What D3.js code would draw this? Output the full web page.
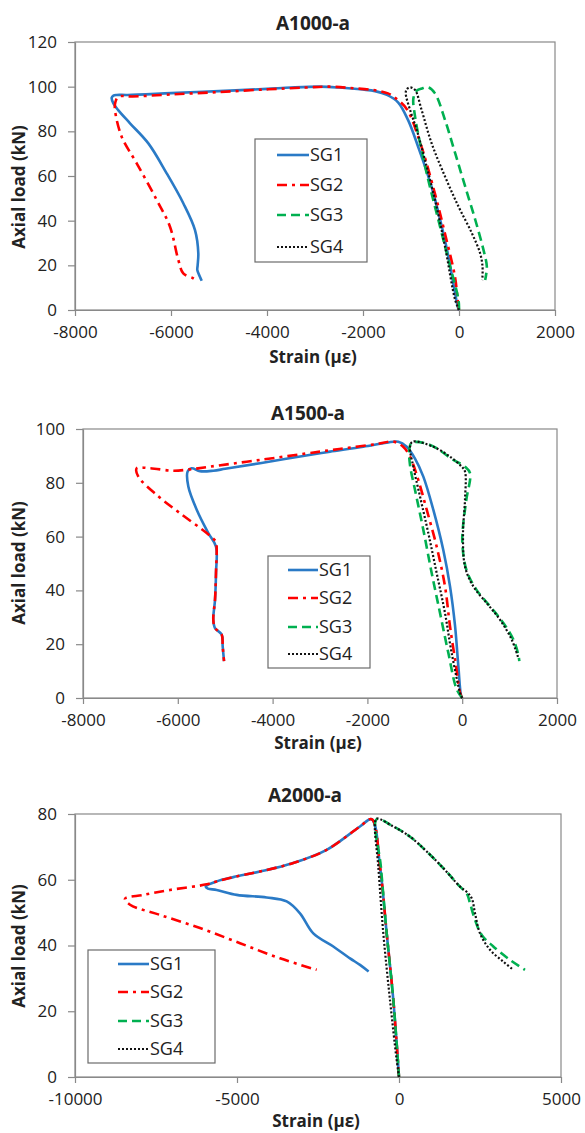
<!DOCTYPE html>
<html>
<head>
<meta charset="utf-8">
<script src="https://cdn.jsdelivr.net/npm/d3@7"></script>
<style>
  body { margin: 0; background: #fff; }
  svg { display: block; }
  text { font-family: "Open Sans", sans-serif; fill: #222; }
</style>
</head>
<body>
<script>
// ---- data ----
const SERIES_NAMES = ['SG1', 'SG2', 'SG3', 'SG4']
const TITLES = ['A1000-a', 'A1500-a', 'A2000-a']
const X_LABEL = 'Strain (με)'
const Y_LABEL = 'Axial load (kN)'

const X_TICKS_1 = [-8000, -6000, -4000, -2000, 0, 2000]
const Y_TICKS_1 = [0, 20, 40, 60, 80, 100, 120]
const X_TICKS_2 = [-8000, -6000, -4000, -2000, 0, 2000]
const Y_TICKS_2 = [0, 20, 40, 60, 80, 100]
const X_TICKS_3 = [-10000, -5000, 0, 5000]
const Y_TICKS_3 = [0, 20, 40, 60, 80]

// A1000-a  [strain, load]
const A1000_SG1 = [[0, 0], [-20, 1], [-260, 28], [-570, 55], [-850, 73], [-1060, 85], [-1270, 93], [-1500, 96.3], [-1750, 98], [-2000, 98.7], [-2500, 99.6], [-2900, 100], [-3500, 99.6], [-4000, 99], [-5000, 98], [-6000, 97.1], [-6900, 96.3], [-7130, 96.3], [-7200, 96], [-7236, 95], [-7200, 92.5], [-7100, 89.5], [-6854, 83.6], [-6472, 74.6], [-6090, 61.2], [-5744, 47.8], [-5500, 35.8], [-5431, 25.4], [-5445, 20], [-5452, 17.9], [-5400, 15], [-5360, 13.1]]
const A1000_SG2 = [[0, 0], [-30, 5], [-85, 15], [-290, 34], [-500, 52], [-810, 75], [-1090, 90], [-1330, 95], [-1480, 97], [-1750, 98.4], [-2200, 99.3], [-2700, 100], [-3200, 99.6], [-4000, 98.8], [-5000, 97.6], [-6000, 96.5], [-6800, 95.6], [-7097, 95.5], [-7160, 93], [-7167, 89.6], [-7028, 77.6], [-6715, 65.7], [-6298, 49.3], [-6021, 37.3], [-5847, 22.4], [-5744, 16.4], [-5535, 14.2], [-5466, 13.1]]
const A1000_SG3 = [[0, 0], [-10, 4.5], [-220, 22.4], [-430, 40.3], [-640, 58.2], [-810, 74.6], [-915, 86.6], [-950, 94.8], [-880, 98.2], [-770, 99.2], [-640, 99.7], [-500, 97], [-290, 85], [-80, 70.2], [130, 55.2], [340, 40.3], [510, 26.9], [580, 19.4], [545, 13.4]]
const A1000_SG4 = [[0, 0], [-80, 4.5], [-290, 28.3], [-500, 49.3], [-710, 67.2], [-880, 80.6], [-1020, 89.6], [-1110, 97], [-1090, 98.8], [-1020, 99.7], [-915, 98.5], [-780, 89.6], [-570, 74.6], [-290, 59.7], [-10, 46.3], [270, 34.3], [440, 25.4], [490, 19.4], [485, 13.4]]

// A1500-a
const A1500_SG1 = [[0, 0], [-25, 1], [-82, 12], [-152, 27], [-257, 41.5], [-399, 55], [-610, 70], [-820, 82.3], [-996, 89], [-1171, 93.4], [-1348, 95.3], [-1593, 94.9], [-2086, 93.4], [-2789, 91.6], [-3000, 91], [-4266, 87.3], [-5000, 85.2], [-5251, 84.5], [-5532, 84.3], [-5707, 85.4], [-5792, 84.2], [-5778, 78.6], [-5601, 70], [-5356, 61.3], [-5194, 56.3], [-5194, 46.5], [-5215, 36.5], [-5251, 29.1], [-5215, 26], [-5074, 23.6], [-5053, 19.2], [-5025, 13.7]]
const A1500_SG2 = [[0, 0], [-47, 2], [-131, 12], [-257, 26.6], [-363, 41.5], [-539, 56.3], [-749, 70], [-925, 81], [-1101, 89.7], [-1250, 93.5], [-1454, 95.3], [-1800, 94.4], [-2400, 93], [-3000, 91.6], [-4266, 88.5], [-5321, 86], [-5743, 85], [-6095, 84.5], [-6586, 85.4], [-6867, 85.4], [-6833, 82.3], [-6446, 75.5], [-5954, 68.7], [-5390, 61.3], [-5194, 58], [-5180, 56], [-5194, 46.5], [-5215, 36.5], [-5251, 29.1], [-5215, 26], [-5074, 23.6], [-5053, 19.2], [-5025, 13.7]]
const A1500_SG3 = [[0, 0], [-116, 3.2], [-293, 16.8], [-468, 31.6], [-644, 46.5], [-820, 62.5], [-996, 77.4], [-1101, 86.6], [-1116, 92.2], [-1066, 94.9], [-679, 94.1], [-188, 88.5], [59, 86], [165, 83.6], [87, 73.7], [17, 63.7], [3, 57.6], [87, 47.7], [298, 40.3], [587, 34.1], [868, 27.9], [1079, 21.7], [1184, 16.1], [1205, 13.7]]
const A1500_SG4 = [[0, 0], [-30, 1], [-223, 16.8], [-363, 31.6], [-539, 46.5], [-715, 61.3], [-890, 74.9], [-1032, 86], [-1101, 93.4], [-1046, 95.3], [-609, 93.4], [-257, 89.7], [-11, 86], [59, 84.2], [59, 73.7], [17, 61.3], [59, 48.9], [234, 41.5], [517, 35.3], [797, 29.1], [1044, 21.7], [1184, 14.9]]

// A2000-a
const A2000_SG1 = [[0, 0], [-175, 23.4], [-380, 43.7], [-586, 64], [-843, 78.4], [-1204, 76.2], [-2232, 69.1], [-3263, 65.1], [-4290, 62.5], [-5114, 60.8], [-5627, 59.5], [-5966, 57.9], [-5900, 57.3], [-5627, 56.9], [-5010, 55.4], [-4084, 54.6], [-3467, 53.4], [-3056, 49.8], [-2645, 43.7], [-2028, 39.7], [-1512, 36.1], [-1204, 34.1], [-938, 32.1]]
const A2000_SG2 = [[0, 0], [-175, 23.4], [-380, 43.7], [-586, 64], [-843, 78.4], [-1204, 76.2], [-2232, 69.1], [-3263, 65.1], [-4290, 62.5], [-5114, 60.8], [-5627, 59.5], [-5936, 58.6], [-7068, 56.9], [-7892, 55.4], [-8457, 54.2], [-8302, 52.4], [-7377, 49.3], [-6142, 45.3], [-4907, 40.7], [-3673, 36.1], [-2541, 32.6]]
const A2000_SG3 = [[0, 0], [-175, 23.4], [-380, 43.7], [-560, 64], [-689, 78.4], [-176, 76.2], [340, 73.1], [855, 68.6], [1370, 63.5], [1883, 57.9], [2089, 55.9], [2191, 52.9], [2346, 47.8], [2552, 43.2], [2911, 39.7], [3426, 35.6], [3889, 32.6]]
const A2000_SG4 = [[0, 0], [-72, 5.2], [-278, 23.4], [-484, 43.7], [-639, 64], [-741, 77.2], [-689, 78.6], [-176, 76.2], [340, 73.1], [855, 68.6], [1370, 63.5], [1883, 57.9], [2100, 56.2], [2244, 54.4], [2346, 49.8], [2500, 43.7], [2809, 38.7], [3219, 35.1], [3528, 32.6]]

// ---- styling and layout ----
const SERIES_STYLE = {
  SG1: { color: '#2a7ac6', dash: null, width: 2.6 },
  SG2: { color: '#ff0000', dash: '10,5,3,5', width: 2.6 },
  SG3: { color: '#00b050', dash: '9,5', width: 2.6 },
  SG4: { color: '#111111', dash: '2,2', width: 2.2 }
}
const AXIS_COLOR = '#898989'

const PANELS = [
  {
    title: TITLES[0], xTicks: X_TICKS_1, yTicks: Y_TICKS_1,
    series: [A1000_SG1, A1000_SG2, A1000_SG3, A1000_SG4],
    box: { left: 75, right: 555, top: 42, bottom: 310 },
    titleX: 313, titleY: 23, yTitleY: 187, xTitleGap: 47,
    legend: { x: 255, y: 139, w: 112, h: 123, lx0: 22, lx1: 54, tx: 55, rows: [16, 46, 76, 108] }
  },
  {
    title: TITLES[1], xTicks: X_TICKS_2, yTicks: Y_TICKS_2,
    series: [A1500_SG1, A1500_SG2, A1500_SG3, A1500_SG4],
    box: { left: 83, right: 557, top: 429, bottom: 698 },
    titleX: 308, titleY: 413, yTitleY: 563, xTitleGap: 45,
    legend: { x: 268, y: 556, w: 102, h: 112, lx0: 20, lx1: 50, tx: 51, rows: [14, 42, 71, 98] }
  },
  {
    title: TITLES[2], xTicks: X_TICKS_3, yTicks: Y_TICKS_3,
    series: [A2000_SG1, A2000_SG2, A2000_SG3, A2000_SG4],
    box: { left: 75, right: 561, top: 814, bottom: 1077 },
    titleX: 305, titleY: 795, yTitleY: 946, xTitleGap: 44,
    legend: { x: 88, y: 950, w: 127, h: 113, lx0: 30, lx1: 61, tx: 62, rows: [14, 42, 71, 99] }
  }
]

const svg = d3.select('body').append('svg')
  .attr('width', 585)
  .attr('height', 1133)

const drawPanel = (p) => {
  const { box } = p
  const x = d3.scaleLinear().domain(d3.extent(p.xTicks)).range([box.left, box.right])
  const y = d3.scaleLinear().domain(d3.extent(p.yTicks)).range([box.bottom, box.top])
  const g = svg.append('g')

  // plot frame
  g.append('rect')
    .attr('x', box.left).attr('y', box.top)
    .attr('width', box.right - box.left).attr('height', box.bottom - box.top)
    .attr('fill', 'none').attr('stroke', AXIS_COLOR).attr('stroke-width', 1.2)

  const yAxis = g.append('g')
    .attr('transform', `translate(${box.left},0)`)
    .call(d3.axisLeft(y).tickValues(p.yTicks).tickFormat(d => String(d))
      .tickSize(7).tickSizeOuter(0).tickPadding(11))
  const xAxis = g.append('g')
    .attr('transform', `translate(0,${box.bottom})`)
    .call(d3.axisBottom(x).tickValues(p.xTicks).tickFormat(d => String(d))
      .tickSize(6).tickSizeOuter(0).tickPadding(10))
  ;[yAxis, xAxis].forEach(a => {
    a.select('.domain').attr('stroke', AXIS_COLOR).attr('stroke-width', 1.2)
    a.selectAll('.tick line').attr('stroke', AXIS_COLOR).attr('stroke-width', 1.2)
    a.selectAll('.tick text')
      .attr('fill', '#222')
      .style('font-family', '"Open Sans", sans-serif')
      .style('font-size', '17px')
  })

  // series
  const line = d3.line()
    .x(d => x(d[0]))
    .y(d => y(d[1]))
    .curve(d3.curveCatmullRom.alpha(0.5))
  p.series.forEach((data, i) => {
    const st = SERIES_STYLE[SERIES_NAMES[i]]
    g.append('path')
      .datum(data)
      .attr('d', line)
      .attr('fill', 'none')
      .attr('stroke', st.color)
      .attr('stroke-width', st.width)
      .attr('stroke-dasharray', st.dash)
      .attr('stroke-linejoin', 'round')
  })

  // titles
  g.append('text')
    .attr('x', p.titleX).attr('y', p.titleY)
    .attr('text-anchor', 'middle').attr('dy', '0.35em')
    .style('font-size', '19px').style('font-weight', 'bold')
    .text(p.title)
  g.append('text')
    .attr('x', (box.left + box.right) / 2 - 2).attr('y', box.bottom + p.xTitleGap)
    .attr('text-anchor', 'middle').attr('dy', '0.35em')
    .style('font-size', '17px').style('font-weight', 'bold')
    .text(X_LABEL)
  g.append('text')
    .attr('transform', `translate(19,${p.yTitleY}) rotate(-90)`)
    .attr('text-anchor', 'middle').attr('dy', '0.35em')
    .style('font-size', '17px').style('font-weight', 'bold')
    .text(Y_LABEL)

  // legend
  const L = p.legend
  const lg = g.append('g').attr('transform', `translate(${L.x},${L.y})`)
  lg.append('rect')
    .attr('width', L.w).attr('height', L.h)
    .attr('fill', '#fff').attr('stroke', '#6b6b6b').attr('stroke-width', 1.2)
  SERIES_NAMES.forEach((name, i) => {
    const st = SERIES_STYLE[name]
    lg.append('line')
      .attr('x1', L.lx0).attr('x2', L.lx1)
      .attr('y1', L.rows[i]).attr('y2', L.rows[i])
      .attr('stroke', st.color).attr('stroke-width', st.width)
      .attr('stroke-dasharray', st.dash)
    lg.append('text')
      .attr('x', L.tx).attr('y', L.rows[i]).attr('dy', '0.35em')
      .style('font-size', '18px')
      .text(name)
  })
}

PANELS.forEach(drawPanel)
</script>
</body>
</html>
